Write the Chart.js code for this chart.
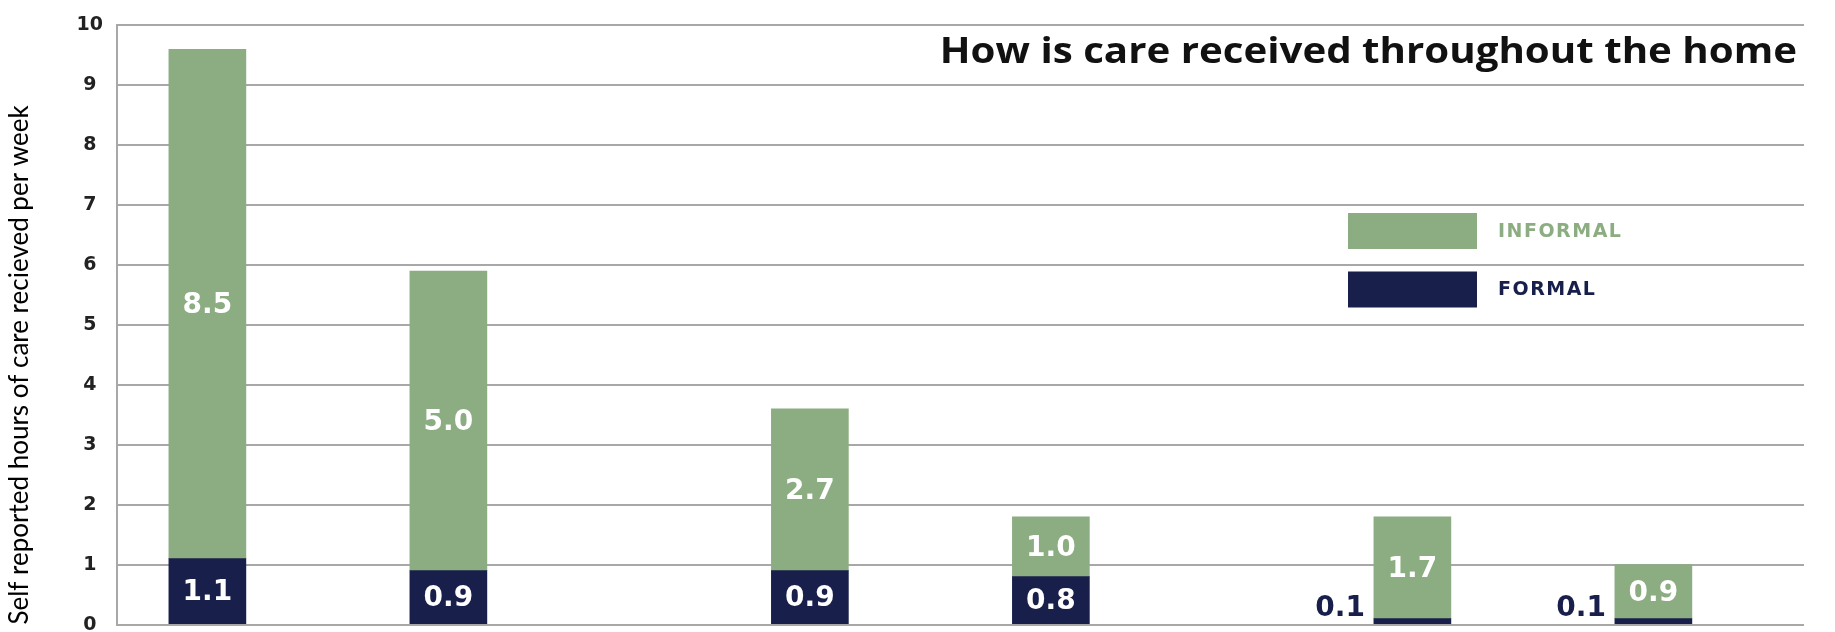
<!DOCTYPE html>
<html>
<head>
<meta charset="utf-8">
<script src="https://cdn.jsdelivr.net/npm/chart.js@4.4.1/dist/chart.umd.min.js"></script>
<style>
  html, body { margin: 0; padding: 0; background: #fff; overflow: hidden; }
  #wrap { width: 1835px; height: 650px; }
</style>
</head>
<body>
<div id="wrap"><canvas id="careChart" width="1835" height="650"></canvas></div>
<script>
// category slots along the x axis; bars sit in a few of them, the rest are gaps
const slotCount = 28;
const barSlots = [1, 5, 11, 15, 21, 25];

// self reported hours per week
const formalHours = [1.1, 0.9, 0.9, 0.8, 0.1, 0.1];
const informalHours = [8.5, 5.0, 2.7, 1.0, 1.7, 0.9];

const yTicks = [0, 1, 2, 3, 4, 5, 6, 7, 8, 9, 10];
const seriesNames = ['FORMAL', 'INFORMAL'];
const chartTitle = 'How is care received throughout the home';
const yTitle = 'Self reported hours of care recieved per week';

const GREEN = '#8cad81';
const NAVY = '#181f4b';
const GRID = '#a8a8a8';

const labels = Array(slotCount).fill('');

function spread(values) {
  const out = Array(slotCount).fill(null);
  barSlots.forEach((s, i) => { out[s] = values[i]; });
  return out;
}

// value labels: white inside the segment, navy to the left when the segment is too thin
const valueLabels = {
  id: 'valueLabels',
  afterDatasetsDraw(chart) {
    const ctx = chart.ctx;
    ctx.save();
    ctx.font = 'bold 28px "DejaVu Sans"';
    ctx.textBaseline = 'middle';
    chart.data.datasets.forEach((ds, di) => {
      const meta = chart.getDatasetMeta(di);
      meta.data.forEach((bar, i) => {
        const v = ds.data[i];
        if (v === null) return;
        const txt = v.toFixed(1);
        const h = bar.base - bar.y;
        const mid = (bar.y + bar.base) / 2;
        if (h >= 24) {
          ctx.fillStyle = '#ffffff';
          ctx.textAlign = 'center';
          ctx.fillText(txt, bar.x, mid + 2);
        } else {
          ctx.fillStyle = ds.backgroundColor;
          ctx.textAlign = 'right';
          ctx.fillText(txt, bar.x - bar.width / 2 - 9, Math.min(mid, bar.base - 15));
        }
      });
    });
    ctx.restore();
  }
};

// title and legend boxes inside the plot
const overlay = {
  id: 'overlay',
  afterDraw(chart) {
    const ctx = chart.ctx;
    ctx.save();
    ctx.fillStyle = '#111111';
    ctx.font = 'bold 35px "Open Sans"';
    ctx.textAlign = 'right';
    ctx.textBaseline = 'alphabetic';
    // title is set a little wide, like the rest of the lettering
    ctx.translate(1797, 63);
    ctx.scale(1.15, 1);
    ctx.fillText(chartTitle, 0, 0);
    ctx.setTransform(1, 0, 0, 1, 0, 0);

    const rows = [1, 0];
    rows.forEach((di, r) => {
      const ds = chart.data.datasets[di];
      const top = 213 + r * 58.5;
      ctx.fillStyle = ds.backgroundColor;
      ctx.fillRect(1348, top, 129, 36);
      ctx.font = 'bold 19px "DejaVu Sans"';
      ctx.letterSpacing = '1.5px';
      ctx.textAlign = 'left';
      ctx.textBaseline = 'middle';
      ctx.fillText(ds.label, 1498, top + 19);
    });
    ctx.restore();
  }
};

new Chart(document.getElementById('careChart'), {
  type: 'bar',
  data: {
    labels: labels,
    datasets: [{
      label: seriesNames[0],
      data: spread(formalHours),
      backgroundColor: NAVY,
      barThickness: 77,
      stack: 'care'
    }, {
      label: seriesNames[1],
      data: spread(informalHours),
      backgroundColor: GREEN,
      barThickness: 77,
      stack: 'care'
    }]
  },
  options: {
    responsive: false,
    animation: false,
    layout: { padding: { left: 0, right: 31, top: 20, bottom: 22 } },
    plugins: {
      legend: { display: false },
      tooltip: { enabled: false }
    },
    scales: {
      x: { display: false, stacked: true },
      y: {
        stacked: true,
        min: yTicks[0],
        max: yTicks[yTicks.length - 1],
        afterBuildTicks(scale) { scale.ticks = yTicks.map(v => ({ value: v })); },
        afterFit(scale) { scale.width = 117; },
        ticks: {
          padding: 14,
          crossAlign: 'center',
          color: '#222222',
          font: { family: 'DejaVu Sans', weight: 'bold', size: 19 }
        },
        grid: { color: GRID, lineWidth: 2, drawTicks: false },
        border: { color: GRID, width: 2 },
        title: {
          display: true,
          text: yTitle,
          align: 'start',
          color: '#000000',
          font: { family: 'Lato', size: 26 },
          padding: { top: 4, bottom: 0 }
        }
      }
    }
  },
  plugins: [valueLabels, overlay]
});
</script>
</body>
</html>
